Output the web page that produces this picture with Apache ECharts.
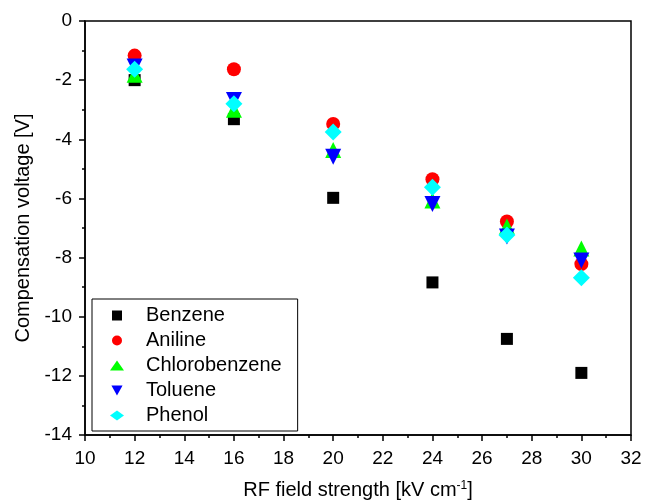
<!DOCTYPE html>
<html>
<head>
<meta charset="utf-8">
<script src="https://cdn.jsdelivr.net/npm/echarts@6/dist/echarts.min.js"></script>
<style>
  html, body { margin: 0; padding: 0; background: #fff; }
  #chart { width: 646px; height: 501px; }
</style>
</head>
<body>
<div id="chart"></div>
<script>
// field strengths (kV/cm)
const fields = [12, 16, 20, 24, 27, 30];

// compensation voltages (V)
const benzene = [-2.0, -3.32, -5.98, -8.84, -10.75, -11.9];
const aniline = [-1.17, -1.63, -3.48, -5.35, -6.78, -8.22];
const chlorobenzene = [-1.82, -3.0, -4.36, -6.07, -6.95, -7.69];
const toluene = [-1.54, -2.67, -4.59, -6.19, -7.29, -8.1];
const phenol = [-1.63, -2.8, -3.75, -5.62, -7.24, -8.68];

const FONT = 'Liberation Sans';
const SQUARE = 'path://M0,0H10V10H0Z';
const DOWN_TRI = 'path://M0,0L10,0L5,9Z';

function pts(ys) {
  return fields.map((x, i) => [x, ys[i]]);
}

function scatter(name, ys, symbol, color, size) {
  return {
    name: name,
    type: 'scatter',
    data: pts(ys),
    symbol: symbol,
    symbolSize: size,
    itemStyle: { color: color, opacity: 1 },
    emphasis: { disabled: true }
  };
}

const chart = echarts.init(document.getElementById('chart'));
chart.setOption({
  animation: false,
  textStyle: { fontFamily: FONT },
  grid: {
    left: 85, right: 15, top: 21, bottom: 66,
    outerBoundsMode: 'none',
    containLabel: false,
    show: true, borderColor: '#000', borderWidth: 1.5
  },
  legend: {
    orient: 'vertical',
    left: 92, top: 299,
    padding: [4, 16, 3, 18],
    borderColor: '#000', borderWidth: 1,
    itemWidth: 14, itemHeight: 10,
    itemGap: 0,
    textStyle: { fontFamily: FONT, fontSize: 20, lineHeight: 25, color: '#000', padding: [0, 0, 0, 17] },
    data: ['Benzene', 'Aniline', 'Chlorobenzene', 'Toluene', 'Phenol']
  },
  xAxis: {
    type: 'value',
    min: 10, max: 32, interval: 2,
    name: 'RF field strength [kV cm{sup|-1}]',
    nameLocation: 'middle',
    nameGap: 45,
    nameTextStyle: {
      fontFamily: FONT, fontSize: 20, color: '#000',
      rich: {
        sup: { fontFamily: FONT, fontSize: 12, color: '#000', verticalAlign: 'top', padding: [0, 0, 9, 0] }
      }
    },
    axisLine: { onZero: false, lineStyle: { color: '#000', width: 1.5 } },
    axisTick: { inside: false, length: 6, lineStyle: { color: '#000', width: 1.5 } },
    minorTick: { show: true, splitNumber: 2, length: 3, lineStyle: { color: '#000', width: 1.5 } },
    axisLabel: { fontFamily: FONT, fontSize: 19, color: '#000', margin: 14 },
    splitLine: { show: false }
  },
  yAxis: {
    type: 'value',
    min: -14, max: 0, interval: 2,
    name: 'Compensation voltage [V]',
    nameLocation: 'middle',
    nameGap: 52,
    nameTextStyle: { fontFamily: FONT, fontSize: 20, color: '#000' },
    axisLine: { onZero: false, lineStyle: { color: '#000', width: 1.5 } },
    axisTick: { inside: false, length: 6, lineStyle: { color: '#000', width: 1.5 } },
    minorTick: { show: true, splitNumber: 2, length: 3, lineStyle: { color: '#000', width: 1.5 } },
    axisLabel: { fontFamily: FONT, fontSize: 19, color: '#000', margin: 13 },
    splitLine: { show: false }
  },
  series: [
    scatter('Benzene', benzene, SQUARE, '#000000', 12),
    scatter('Aniline', aniline, 'circle', '#ff0000', 14),
    scatter('Chlorobenzene', chlorobenzene, 'triangle', '#00ff00', 16),
    scatter('Toluene', toluene, DOWN_TRI, '#0000ff', 16),
    scatter('Phenol', phenol, 'diamond', '#00ffff', 17)
  ]
});
</script>
</body>
</html>
